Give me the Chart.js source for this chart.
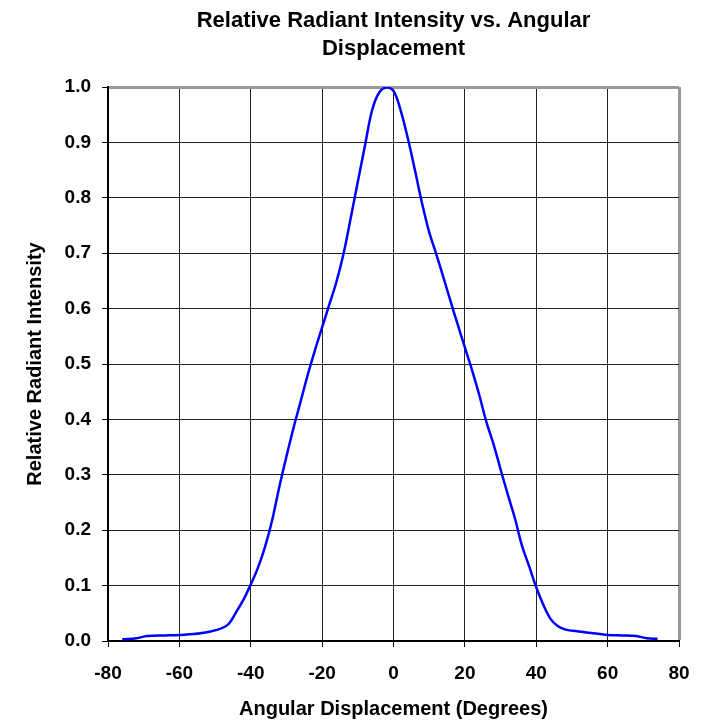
<!DOCTYPE html>
<html>
<head>
<meta charset="utf-8">
<script src="https://cdn.jsdelivr.net/npm/chart.js@4.4.1/dist/chart.umd.min.js"></script>
<style>
  html, body { margin: 0; padding: 0; background: #fff; }
  canvas { display: block; }
</style>
</head>
<body>
<canvas id="chart" width="707" height="721"></canvas>
<script>
// Angle (degrees) and relative intensity
const angles = [
  -76, -72, -69, -64, -60, -54, -49.5, -46.5, -44, -42, -40, -38, -36, -34,
  -32, -30, -28, -26, -24, -22, -20, -18, -16, -14, -12, -10, -8, -6, -4,
  -2, 0, 2, 4, 6, 8, 10, 12, 14, 16, 18, 20, 22, 24, 26, 28, 30, 32, 34,
  36, 38, 40, 42, 44, 46, 48, 52, 56, 60, 64, 68, 71, 74
];
const intensity = [
  0.003, 0.005, 0.009, 0.010, 0.011, 0.014, 0.020, 0.029, 0.053, 0.075,
  0.102, 0.132, 0.170, 0.218, 0.278, 0.333, 0.385, 0.433, 0.481, 0.525,
  0.566, 0.607, 0.648, 0.699, 0.763, 0.829, 0.894, 0.958, 0.990, 0.999,
  0.993, 0.958, 0.908, 0.850, 0.790, 0.738, 0.698, 0.656, 0.613, 0.571,
  0.530, 0.489, 0.445, 0.396, 0.356, 0.310, 0.265, 0.222, 0.172, 0.135,
  0.097, 0.065, 0.040, 0.027, 0.021, 0.017, 0.014, 0.011, 0.010, 0.009,
  0.005, 0.004
];
const titleLines = ['Relative Radiant Intensity vs. Angular', 'Displacement'];
const xTitle = 'Angular Displacement (Degrees)';
const yTitle = 'Relative Radiant Intensity';

const FONT = '"Liberation Sans", Arial, sans-serif';

// chart title drawn above the plot area
const titlePlugin = {
  id: 'twoLineTitle',
  afterDraw(chart) {
    const { ctx, chartArea } = chart;
    ctx.save();
    ctx.font = `bold 22px ${FONT}`;
    ctx.fillStyle = '#000';
    ctx.textAlign = 'center';
    ctx.textBaseline = 'alphabetic';
    const cx = (chartArea.left + chartArea.right) / 2;
    ctx.fillText(titleLines[0], cx, 27);
    ctx.fillText(titleLines[1], cx, 55);
    ctx.restore();
  }
};

const points = angles.map((a, i) => ({ x: a, y: intensity[i] }));

new Chart(document.getElementById('chart'), {
  type: 'line',
  data: {
    datasets: [{
      data: points,
      borderColor: '#0000ff',
      borderWidth: 2.5,
      pointRadius: 0,
      fill: false,
      tension: 0.35
    }]
  },
  options: {
    responsive: false,
    animation: false,
    layout: { padding: { top: 87, right: 28, bottom: 0, left: 0 } },
    plugins: {
      legend: { display: false },
      tooltip: { enabled: false }
    },
    scales: {
      x: {
        type: 'linear',
        min: -80,
        max: 80,
        afterFit: (s) => { s.height = 80; },
        border: { color: '#000', width: 2 },
        grid: {
          color: (c) => c.tick && c.tick.value === 80 ? '#999' : '#222',
          lineWidth: (c) => c.tick && c.tick.value === 80 ? 3 : 1,
          tickLength: 6,
          tickColor: '#000',
          tickWidth: 1
        },
        ticks: {
          stepSize: 20,
          padding: 15,
          color: '#000',
          font: { family: FONT, size: 19, weight: 'bold' },
          maxRotation: 0
        },
        title: {
          display: true,
          text: xTitle,
          color: '#000',
          padding: { top: 0, bottom: 0 },
          font: { family: FONT, size: 20, weight: 'bold' }
        }
      },
      y: {
        min: 0,
        max: 1,
        afterFit: (s) => { s.width = 108; },
        border: { color: '#000', width: 2 },
        grid: {
          color: (c) => c.tick && c.tick.value === 1 ? '#999' : '#222',
          lineWidth: (c) => c.tick && c.tick.value === 1 ? 3 : 1,
          tickLength: 6,
          tickColor: '#000',
          tickWidth: 1
        },
        ticks: {
          stepSize: 0.1,
          padding: 11,
          color: '#000',
          font: { family: FONT, size: 19, weight: 'bold' },
          callback: (v) => Number(v).toFixed(1)
        },
        title: {
          display: true,
          text: yTitle,
          color: '#000',
          padding: { top: 23, bottom: 0 },
          font: { family: FONT, size: 20, weight: 'bold' }
        }
      }
    }
  },
  plugins: [titlePlugin]
});
</script>
</body>
</html>
